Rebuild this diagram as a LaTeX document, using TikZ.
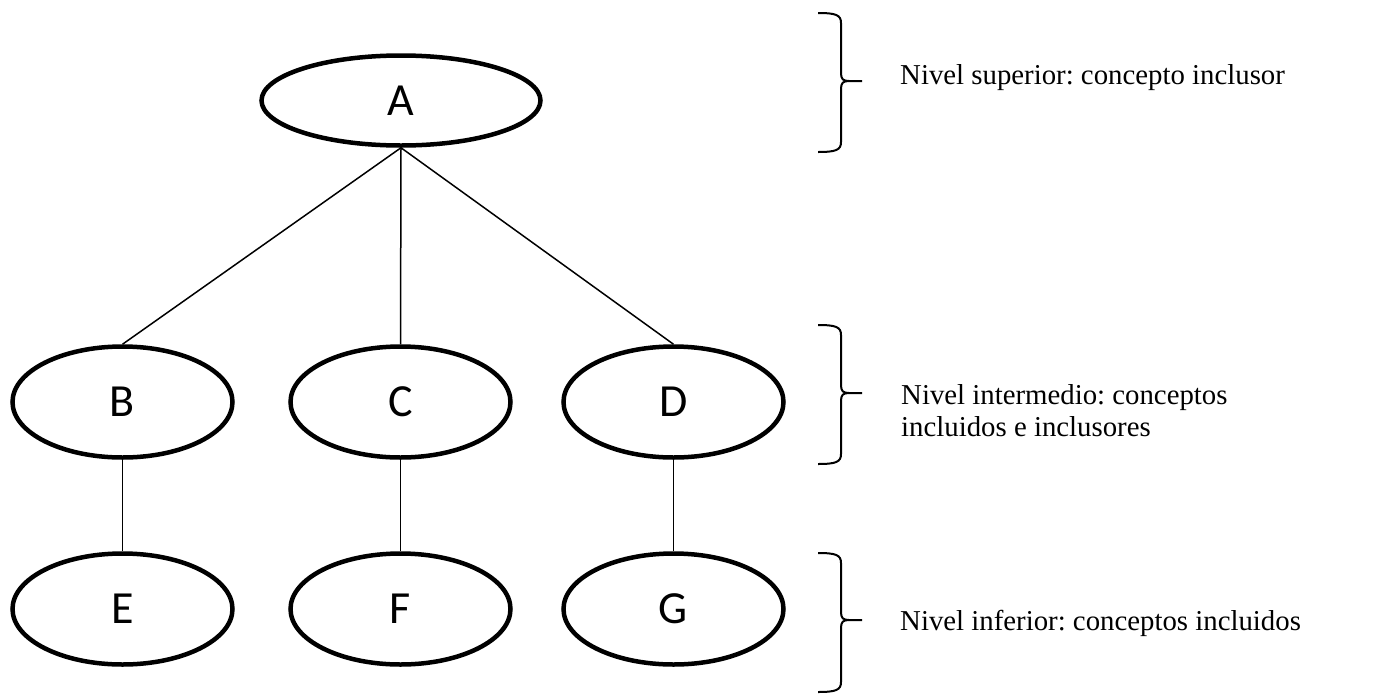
\documentclass[tikz,border=0pt]{standalone}
\usepackage{fontspec}
\setmainfont{Liberation Serif}
\newfontfamily\letterfont{Carlito}
\usetikzlibrary{shapes,positioning,calc}
\frenchspacing

\begin{document}
\begin{tikzpicture}[x=1pt, y=-1pt, concept-node/.style={
                ellipse, draw=black, line width=4.5pt, inner sep=0pt, minimum width=220pt, minimum height=111pt, font=\letterfont\fontsize{46}{50}\selectfont},
                level-text/.style={anchor=base west, align=left, inner sep=0pt, font=\fontsize{28.8}{32}\selectfont}]
                \useasboundingbox (0,0) rectangle (1379,694);
                \node[concept-node, minimum width=279pt, minimum height=90pt] (A) at (401,100.5) {A};
                \node[concept-node] (B) at (122.5,402) {B};
                \node[concept-node] (C) at (400.5,402) {C};
                \node[concept-node] (D) at (673.5,402) {D};
                \node[concept-node] (E) at (122.5,609) {E};
                \node[concept-node] (F) at (400.5,609) {F};
                \node[concept-node] (G) at (673.5,609) {G};
                \draw [line width=1.5pt] (A.south) -- (B.north);
                \draw [line width=1.5pt] (A.south) -- (C.north);
                \draw [line width=1.5pt] (A.south) -- (D.north);
                \draw [line width=1.5pt] (B.south) -- (E.north);
                \draw [line width=1.5pt] (C.south) -- (F.north);
                \draw [line width=1.5pt] (D.south) -- (G.north);
                \foreach \ytop/\ytip/\ybot in {13/81/152, 325/393/464, 553/620/692}
                    \draw [line width=2pt] (818,\ytop) .. controls (836,\ytop) and (841,\ytop+2) .. (841,\ytop+10) -- (841,\ytip-8)
                        .. controls (841,\ytip-2) and (843,\ytip) .. (849,\ytip) -- (862,\ytip)
                        (849,\ytip) .. controls (843,\ytip) and (841,\ytip+2) .. (841,\ytip+8) -- (841,\ybot-10)
                        .. controls (841,\ybot-2) and (836,\ybot) .. (818,\ybot);
                \node[level-text] (top-text) at (900,84) {Nivel superior: concepto inclusor};
                \node[level-text] (mid-text) at (901,436) {Nivel intermedio: conceptos\\incluidos e inclusores};
                \node[level-text] (low-text) at (900,630) {Nivel inferior: conceptos incluidos};
            \end{tikzpicture}
\end{document}
